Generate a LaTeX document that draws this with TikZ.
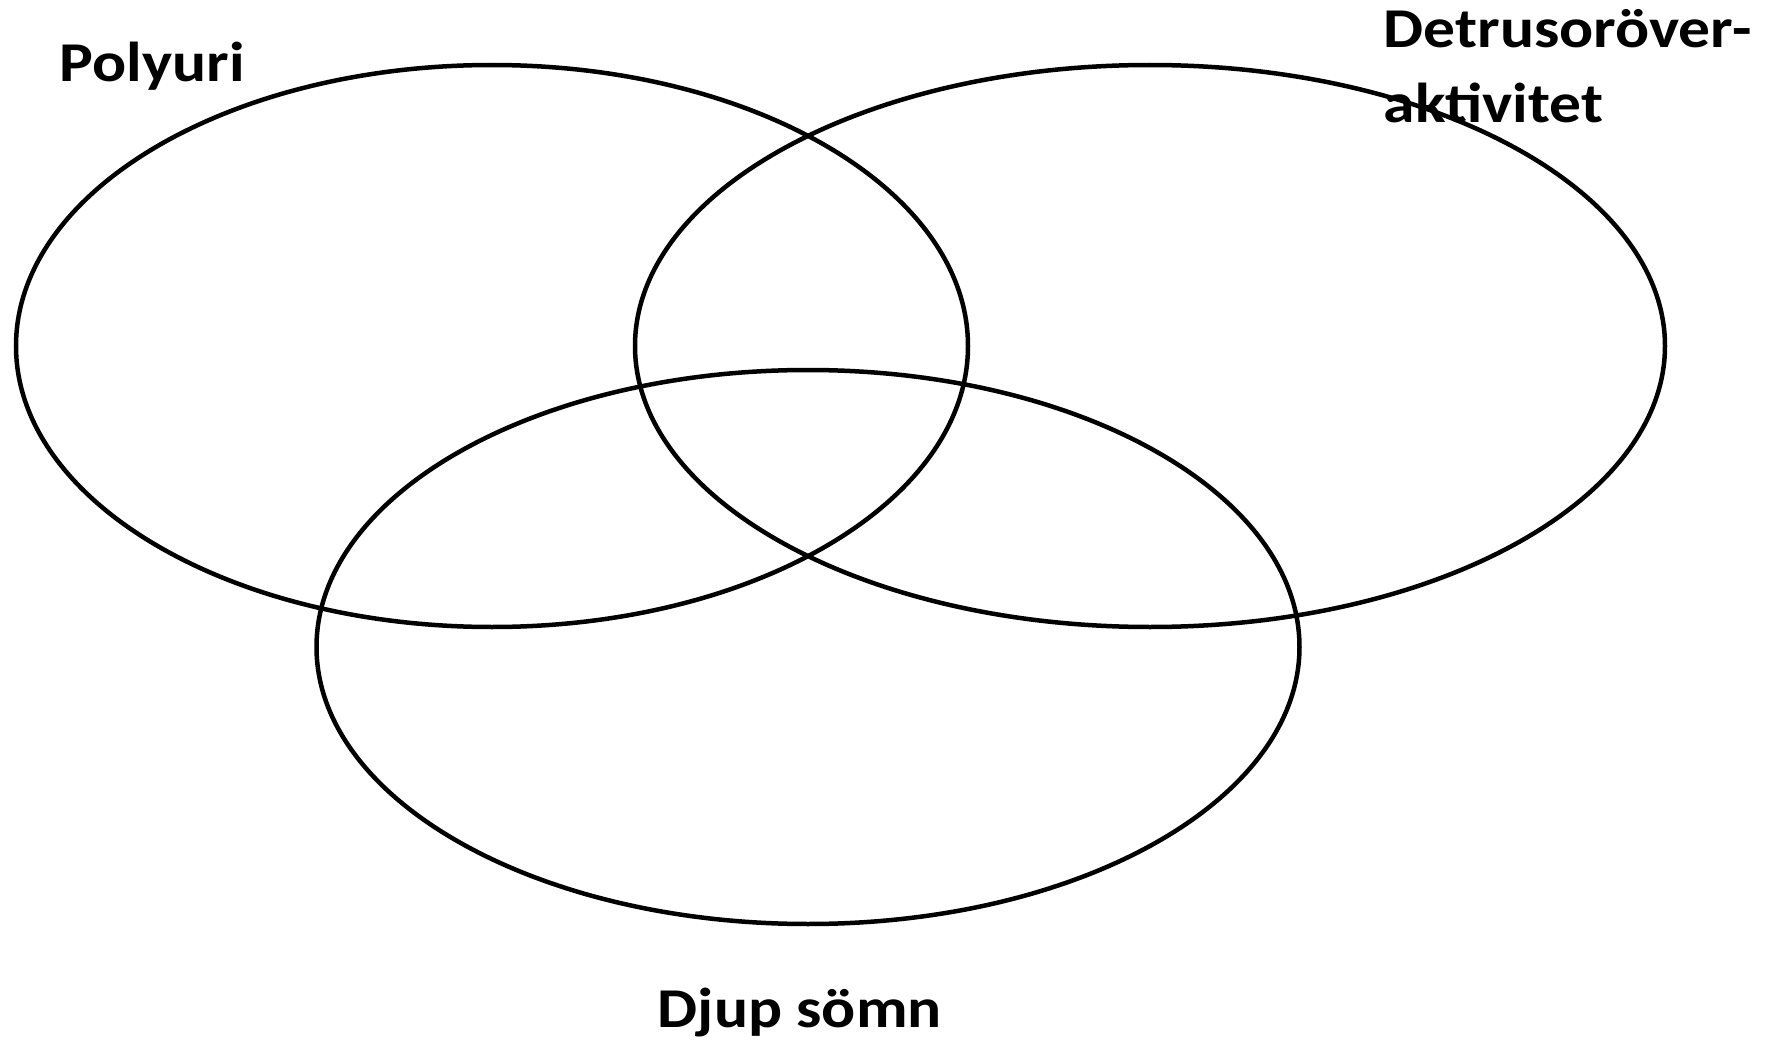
\documentclass[tikz,border=0pt]{standalone}
\usepackage{fontspec}
\setmainfont{Carlito}
\usetikzlibrary{shapes.geometric}
\begin{document}
\begin{tikzpicture}[ring/.style = {draw, ellipse, line width=0.045cm, inner sep=0pt},
        tag/.style = {font=\fontsize{16}{21.3}\selectfont\bfseries, inner sep=0pt, xscale=1.13, transform shape}]
        \useasboundingbox (0,0) rectangle (17.71,10.41);
        \node[ring, minimum width=9.52cm, minimum height=5.62cm] at (4.92,6.95) (polyuri) {};
        \node[ring, minimum width=10.30cm, minimum height=5.62cm] at (11.50,6.95) (detrusor) {};
        \node[ring, minimum width=9.83cm, minimum height=5.54cm] at (8.08,3.94) (somn) {};
        \node[tag, anchor=base west] at (0.59,9.59) (lpolyuri) { Polyuri };
        \node[tag, anchor=base west, align=left] at (13.83,9.19) (ldetrusor) { Detrusoröver-\\aktivitet };
        \node[tag, anchor=base west] at (6.57,0.14) (lsomn) { Djup sömn };
    \end{tikzpicture}
\end{document}
